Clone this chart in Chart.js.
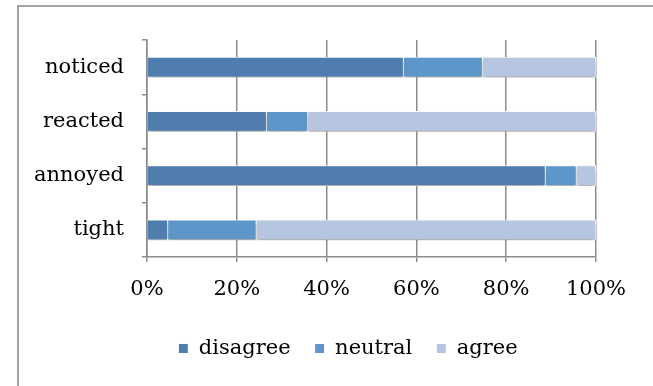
<!DOCTYPE html>
<html>
<head>
<meta charset="utf-8">
<script src="https://cdn.jsdelivr.net/npm/chart.js@4"></script>
<style>
    html, body { margin: 0; padding: 0; background: #fff; overflow: hidden; }
    #wrap { position: relative; width: 653px; height: 386px; overflow: hidden; }
    #frame {
        position: absolute; left: 17px; top: 5px; width: 700px; height: 420px;
        border: 2px solid #a4a4a4; border-right: none; border-bottom: none;
        box-sizing: border-box;
    }
    canvas { position: absolute; left: 0; top: 0; }
</style>
</head>
<body>
<div id="wrap">
    <div id="frame"></div>
    <canvas id="chart" width="653" height="386"></canvas>
</div>
<script>
const categories = ['noticed', 'reacted', 'annoyed', 'tight'];
const disagree = [57.2, 26.7, 88.8, 4.7];
const neutral = [17.6, 9.2, 6.9, 19.7];
const agree = [25.2, 64.1, 4.3, 75.6];
const xTicks = [0, 20, 40, 60, 80, 100];

const font = { family: '"DejaVu Serif", serif', size: 21 };

// soft drop shadow under the bars, like the office chart
const barShadow = {
    id: 'barShadow',
    beforeDatasetsDraw(chart) {
        const c = chart.ctx;
        c.save();
        c.shadowColor = 'rgba(0,0,0,0.35)';
        c.shadowBlur = 4;
        c.shadowOffsetY = 3;
    },
    afterDatasetsDraw(chart) {
        chart.ctx.restore();
    }
};

// legend sits a bit right of the canvas centre in the original
const legendShift = {
    id: 'legendShift',
    afterLayout(chart) {
        chart.legend.left = 100;
    }
};

const ctx = document.getElementById('chart').getContext('2d');
new Chart(ctx, {
    type: 'bar',
    data: {
        labels: categories,
        datasets: [
            { label: 'disagree', data: disagree, backgroundColor: '#4f7dae' },
            { label: 'neutral', data: neutral, backgroundColor: '#5f96c9' },
            { label: 'agree', data: agree, backgroundColor: '#b7c6e0' }
        ]
    },
    options: {
        responsive: false,
        animation: false,
        indexAxis: 'y',
        layout: { padding: { left: 0, right: 57, top: 40, bottom: 17 } },
        datasets: {
            bar: {
                borderColor: '#ffffff',
                borderWidth: 1,
                categoryPercentage: 1,
                barPercentage: 0.38
            }
        },
        scales: {
            x: {
                stacked: true,
                min: 0,
                max: 100,
                afterBuildTicks: (scale) => {
                    scale.ticks = xTicks.map((v) => ({ value: v }));
                },
                afterFit: (scale) => {
                    scale.height = 57;
                },
                grid: { color: '#8c8c8c', lineWidth: 1.5, tickLength: 5 },
                border: { color: '#8c8c8c', width: 1.5 },
                ticks: {
                    color: '#000',
                    font: font,
                    padding: 15,
                    maxRotation: 0,
                    callback: (v) => v + '%'
                }
            },
            y: {
                stacked: true,
                afterFit: (scale) => {
                    scale.width = 147;
                },
                grid: {
                    offset: true,
                    drawOnChartArea: false,
                    color: '#8c8c8c',
                    lineWidth: 1.5,
                    tickLength: 5
                },
                border: { color: '#8c8c8c', width: 1.5 },
                ticks: { color: '#000', font: font, padding: 18 }
            }
        },
        plugins: {
            legend: {
                position: 'bottom',
                labels: {
                    color: '#000',
                    font: font,
                    boxWidth: 10,
                    boxHeight: 10,
                    padding: 24
                }
            },
            tooltip: { enabled: false }
        }
    },
    plugins: [barShadow, legendShift]
});
</script>
</body>
</html>
